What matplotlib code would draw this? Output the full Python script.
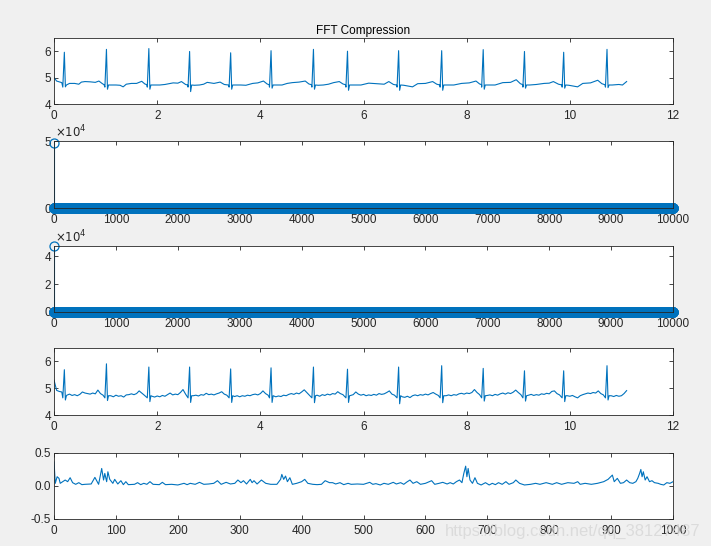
import numpy as np
import matplotlib
matplotlib.use('Agg')
import matplotlib.pyplot as plt

plt.rcParams['font.family'] = ['Liberation Sans', 'DejaVu Sans']
plt.rcParams['font.size'] = 8
plt.rcParams['axes.unicode_minus'] = False

blue = '#0072BD'
dark = '#262626'

r_times = [0.20, 1.016, 1.838, 2.628, 3.424, 4.207, 5.029, 5.689,
           6.68, 7.515, 8.32, 9.12, 9.88, 10.72]
r_peak_clean = [5.96, 6.07, 6.10, 5.99, 5.94, 6.02, 6.07, 6.00,
                6.02, 6.02, 6.06, 5.99, 5.96, 6.07]
s_dip_clean = [4.65, 4.56, 4.56, 4.47, 4.56, 4.60, 4.56, 4.52,
               4.52, 4.52, 4.56, 4.60, 4.60, 4.62]
r_peak_noisy = [5.69, 5.91, 5.79, 5.79, 5.72, 5.76, 5.79, 5.71,
                5.79, 5.84, 5.74, 5.65, 5.65, 5.84]
s_dip_noisy = [4.56, 4.54, 4.50, 4.47, 4.47, 4.47, 4.46, 4.47,
               4.42, 4.46, 4.52, 4.52, 4.50, 4.56]

# clean baseline between beats (time, value)
base_t = [0.00, 0.05, 0.10, 0.15,
          0.30, 0.40, 0.48, 0.53, 0.60, 0.70, 0.80, 0.87, 0.93, 0.97,
          1.10, 1.20, 1.28, 1.34, 1.40, 1.50, 1.60, 1.70, 1.76, 1.80,
          1.95, 2.05, 2.15, 2.31, 2.40, 2.47, 2.55, 2.59,
          2.72, 2.82, 2.90, 2.97, 3.10, 3.22, 3.30, 3.38,
          3.52, 3.62, 3.72, 3.85, 3.95, 4.06, 4.13, 4.17,
          4.30, 4.42, 4.52, 4.62, 4.75, 4.87, 4.94, 4.99,
          5.12, 5.22, 5.32, 5.42, 5.53, 5.60, 5.65,
          5.80, 5.95, 6.10, 6.25, 6.40, 6.49, 6.58, 6.64,
          6.78, 6.95, 7.05, 7.20, 7.34, 7.42, 7.48,
          7.60, 7.75, 7.90, 8.05, 8.18, 8.25, 8.29,
          8.42, 8.55, 8.70, 8.85, 8.96, 9.04, 9.09,
          9.22, 9.35, 9.50, 9.60, 9.68, 9.78, 9.85,
          9.98, 10.15, 10.25, 10.40, 10.54, 10.62, 10.68,
          10.82, 10.95, 11.02, 11.10]
base_v = [5.00, 4.87, 4.84, 4.81,
          4.78, 4.78, 4.75, 4.83, 4.85, 4.84, 4.82, 4.87, 4.78, 4.73,
          4.72, 4.72, 4.71, 4.65, 4.75, 4.78, 4.78, 4.86, 4.76, 4.73,
          4.72, 4.72, 4.74, 4.80, 4.79, 4.85, 4.74, 4.72,
          4.71, 4.72, 4.75, 4.82, 4.78, 4.83, 4.74, 4.72,
          4.72, 4.72, 4.71, 4.78, 4.80, 4.87, 4.76, 4.73,
          4.72, 4.72, 4.78, 4.81, 4.83, 4.87, 4.76, 4.73,
          4.71, 4.72, 4.75, 4.81, 4.85, 4.76, 4.73,
          4.72, 4.72, 4.79, 4.77, 4.75, 4.85, 4.74, 4.72,
          4.71, 4.65, 4.77, 4.78, 4.85, 4.75, 4.72,
          4.72, 4.72, 4.78, 4.80, 4.87, 4.76, 4.73,
          4.72, 4.72, 4.81, 4.82, 4.92, 4.77, 4.73,
          4.72, 4.74, 4.78, 4.79, 4.85, 4.75, 4.72,
          4.71, 4.65, 4.78, 4.80, 4.90, 4.77, 4.73,
          4.72, 4.74, 4.72, 4.85]

# reconstructed (noisy) baseline, one value every 0.05 s
noisy_base = [
    5.30, 4.92, 4.88, 4.86, 4.85, 4.74, 4.78, 4.73, 4.76, 4.72, 4.77, 4.86, 4.82, 4.80, 4.78, 4.82, 4.79, 4.93, 4.80, 4.74,
    4.72, 4.70, 4.72, 4.68, 4.74, 4.70, 4.72, 4.67, 4.75, 4.76, 4.79, 4.76, 4.80, 4.90, 4.82, 4.74, 4.70, 4.70, 4.70, 4.67,
    4.71, 4.68, 4.73, 4.70, 4.76, 4.82, 4.75, 4.78, 4.76, 4.84, 4.95, 4.78, 4.72, 4.72, 4.72, 4.74, 4.71, 4.76, 4.74, 4.81,
    4.76, 4.78, 4.75, 4.79, 4.82, 4.87, 4.78, 4.74, 4.72, 4.70, 4.69, 4.72, 4.68, 4.72, 4.70, 4.74, 4.72, 4.76, 4.78, 4.75,
    4.80, 4.90, 4.80, 4.74, 4.72, 4.70, 4.68, 4.71, 4.69, 4.74, 4.72, 4.77, 4.80, 4.77, 4.82, 4.79, 4.86, 4.94, 4.84, 4.74,
    4.72, 4.72, 4.74, 4.70, 4.76, 4.73, 4.78, 4.75, 4.80, 4.78, 4.87, 4.80, 4.76, 4.72, 4.72, 4.73, 4.76, 4.86, 4.78, 4.74,
    4.77, 4.72, 4.75, 4.73, 4.77, 4.74, 4.80, 4.77, 4.79, 4.84, 4.90, 4.78, 4.74, 4.72, 4.70, 4.68, 4.66, 4.70, 4.65, 4.72,
    4.75, 4.72, 4.76, 4.74, 4.78, 4.75, 4.80, 4.84, 4.78, 4.73, 4.72, 4.70, 4.72, 4.75, 4.72, 4.76, 4.74, 4.79, 4.81, 4.78,
    4.82, 4.80, 4.84, 4.95, 4.84, 4.76, 4.72, 4.72, 4.73, 4.75, 4.72, 4.77, 4.74, 4.79, 4.82, 4.78, 4.83, 4.80, 4.85, 4.93,
    4.84, 4.76, 4.72, 4.72, 4.74, 4.77, 4.73, 4.76, 4.74, 4.79, 4.77, 4.81, 4.79, 4.88, 4.90, 4.80, 4.75, 4.72, 4.72, 4.72,
    4.70, 4.73, 4.68, 4.64, 4.72, 4.76, 4.79, 4.82, 4.80, 4.84, 4.82, 4.90, 4.80, 4.75, 4.72, 4.72, 4.72, 4.69, 4.73, 4.70,
    4.72, 4.80, 4.91]

# FFT magnitude: DC term, everything else sits on zero at this scale
n_fft = 10000
dc_full = 4.83e4
dc_comp = 4.74e4

# inverse-transform residual (last panel)
res_x = [0, 2, 5, 8, 10, 14, 18, 22, 26, 30,
         35, 40, 45, 50, 60, 66, 72, 77, 80, 82,
         85, 87, 90, 95, 98, 103, 108, 112, 116, 120,
         130, 135, 140, 145, 150, 155, 160, 170, 175, 180,
         190, 200, 210, 215, 220, 228, 235, 242, 250, 258,
         264, 270, 278, 285, 292, 297, 302, 306, 311, 317,
         320, 323, 328, 335, 342, 350, 360, 366, 368, 371,
         374, 377, 381, 385, 392, 400, 405, 410, 418, 425,
         432, 438, 445, 450, 455, 462, 468, 475, 480, 490,
         500, 510, 515, 520, 527, 533, 540, 548, 553, 560,
         565, 570, 575, 580, 586, 592, 600, 610, 615, 622,
         628, 635, 640, 645, 650, 655, 659, 662, 665, 667,
         669, 672, 676, 680, 684, 690, 697, 703, 708, 713,
         718, 724, 730, 735, 742, 746, 752, 760, 770, 778,
         785, 795, 805, 812, 820, 830, 840, 846, 850, 858,
         868, 878, 888, 895, 902, 905, 910, 915, 920, 925,
         930, 935, 940, 943, 946, 948, 950, 952, 955, 958,
         962, 966, 970, 976, 980, 985, 990, 995, 1000]
res_y = [0.365, 0.04, 0.14, 0.115, 0.04, 0.065, 0.09, 0.065, 0.125, 0.05,
         0.025, 0.05, 0.02, 0.025, 0.03, 0.13, 0.025, 0.265, 0.09, 0.19,
         0.065, 0.215, 0.10, 0.04, 0.10, 0.03, 0.08, 0.02, 0.065, 0.02,
         0.025, 0.05, 0.02, 0.04, 0.025, 0.065, 0.025, 0.02, 0.055, 0.02,
         0.025, 0.015, 0.04, 0.02, 0.04, 0.025, 0.055, 0.025, 0.03, 0.04,
         0.08, 0.025, 0.055, 0.03, 0.04, 0.09, 0.05, 0.08, 0.03, 0.10,
         0.05, 0.08, 0.03, 0.09, 0.04, 0.025, 0.025, 0.10, 0.175, 0.10,
         0.15, 0.065, 0.125, 0.025, 0.04, 0.065, 0.10, 0.04, 0.025, 0.02,
         0.025, 0.08, 0.05, 0.05, 0.03, 0.05, 0.02, 0.04, 0.025, 0.03,
         0.025, 0.055, 0.025, 0.035, 0.015, 0.04, 0.025, 0.055, 0.03, 0.05,
         0.025, 0.06, 0.09, 0.04, 0.065, 0.025, 0.04, 0.08, 0.025, 0.04,
         0.055, 0.03, 0.05, 0.03, 0.065, 0.09, 0.05, 0.19, 0.30, 0.14,
         0.265, 0.09, 0.04, 0.125, 0.04, 0.015, 0.05, 0.015, 0.04, 0.02,
         0.05, 0.025, 0.065, 0.025, 0.05, 0.09, 0.04, 0.015, 0.025, 0.04,
         0.025, 0.05, 0.025, 0.05, 0.025, 0.05, 0.04, 0.065, 0.025, 0.04,
         0.025, 0.04, 0.065, 0.10, 0.165, 0.065, 0.115, 0.04, 0.05, 0.09,
         0.05, 0.04, 0.065, 0.115, 0.19, 0.25, 0.14, 0.215, 0.09, 0.14,
         0.065, 0.08, 0.05, 0.04, 0.025, 0.015, 0.05, 0.04, 0.065]


def build_ecg(bt, bv, peaks, dips, drop=0.0):
    t = list(bt)
    v = list(bv)
    if drop:
        keep = [i for i in range(len(t)) if min(abs(t[i] - r) for r in r_times) > drop]
        t = [t[i] for i in keep]
        v = [v[i] for i in keep]
    for r, p, d in zip(r_times, peaks, dips):
        t += [r - 0.03, r, r + 0.02, r + 0.04]
        v += [4.64, p, d, 4.72]
    order = np.argsort(t)
    return np.array(t)[order], np.array(v)[order]


def style(ax, xlim, ylim, xticks, yticks, yticklabels=None):
    ax.set_xlim(xlim)
    ax.set_ylim(ylim)
    ax.set_xticks(xticks)
    ax.set_yticks(yticks)
    if yticklabels is not None:
        ax.set_yticklabels(yticklabels)
    ax.tick_params(direction='in', length=3, width=0.6, colors=dark,
                   top=True, right=True, labelsize=8.5)
    ax.tick_params(axis='x', pad=4)
    ax.tick_params(axis='y', pad=2)
    for s in ax.spines.values():
        s.set_color(dark)
        s.set_linewidth(0.6)


fig = plt.figure(figsize=(7.11, 5.46), dpi=100, facecolor='#f0f0f0')

L, W = 0.076, 0.8706
ax1 = fig.add_axes([L, 0.8095, W, 0.1209])
ax2 = fig.add_axes([L, 0.6190, W, 0.1227])
ax3 = fig.add_axes([L, 0.4286, W, 0.1209])
ax4 = fig.add_axes([L, 0.2399, W, 0.1227])
ax5 = fig.add_axes([L, 0.0495, W, 0.1209])

# original signal
t1, v1 = build_ecg(base_t, base_v, r_peak_clean, s_dip_clean)
ax1.plot(t1, v1, color=blue, lw=0.8)
style(ax1, (0, 12), (4, 6.5), range(0, 13, 2), [4, 5, 6])
ax1.set_title('FFT Compression', fontsize=8.5, pad=3)

# spectra
k = np.arange(n_fft)
for ax, dc, top, yt, ytl in [(ax2, dc_full, 5e4, [0, 5e4], ['0', '5']),
                             (ax3, dc_comp, dc_comp, [0, 2e4, 4e4], ['0', '2', '4'])]:
    mag = np.zeros(n_fft)
    mag[0] = dc
    ml, sl, bl = ax.stem(k, mag, basefmt='k-')
    ml.set_color(blue)
    ml.set_markerfacecolor('none')
    ml.set_markersize(6.5)
    ml.set_markeredgewidth(0.9)
    ml.set_clip_on(False)
    sl.set_color(blue)
    sl.set_linewidth(0.8)
    bl.set_color(dark)
    bl.set_linewidth(0.6)
    style(ax, (0, 10000), (0, top), range(0, 10001, 1000), yt, ytl)
    ax.text(0.002, 1.005, r'$\times10^{4}$', transform=ax.transAxes,
            fontsize=8.5, color=dark, va='bottom', ha='left')

# reconstructed signal
tg = np.arange(len(noisy_base)) * 0.05
t4, v4 = build_ecg(tg, noisy_base, r_peak_noisy, s_dip_noisy, drop=0.045)
ax4.plot(t4, v4, color=blue, lw=0.8)
style(ax4, (0, 12), (4, 6.5), range(0, 13, 2), [4, 5, 6])

# residual
ax5.plot(res_x, res_y, color=blue, lw=0.8)
style(ax5, (0, 1000), (-0.5, 0.5), range(0, 1001, 100), [-0.5, 0, 0.5])

fig.text(0.985, 0.012, 'https://blog.csdn.net/qq_38127487', ha='right',
         va='bottom', fontsize=12, color='#d8d8d8', alpha=0.85)

fig.savefig('out.png', dpi=100, facecolor=fig.get_facecolor())
